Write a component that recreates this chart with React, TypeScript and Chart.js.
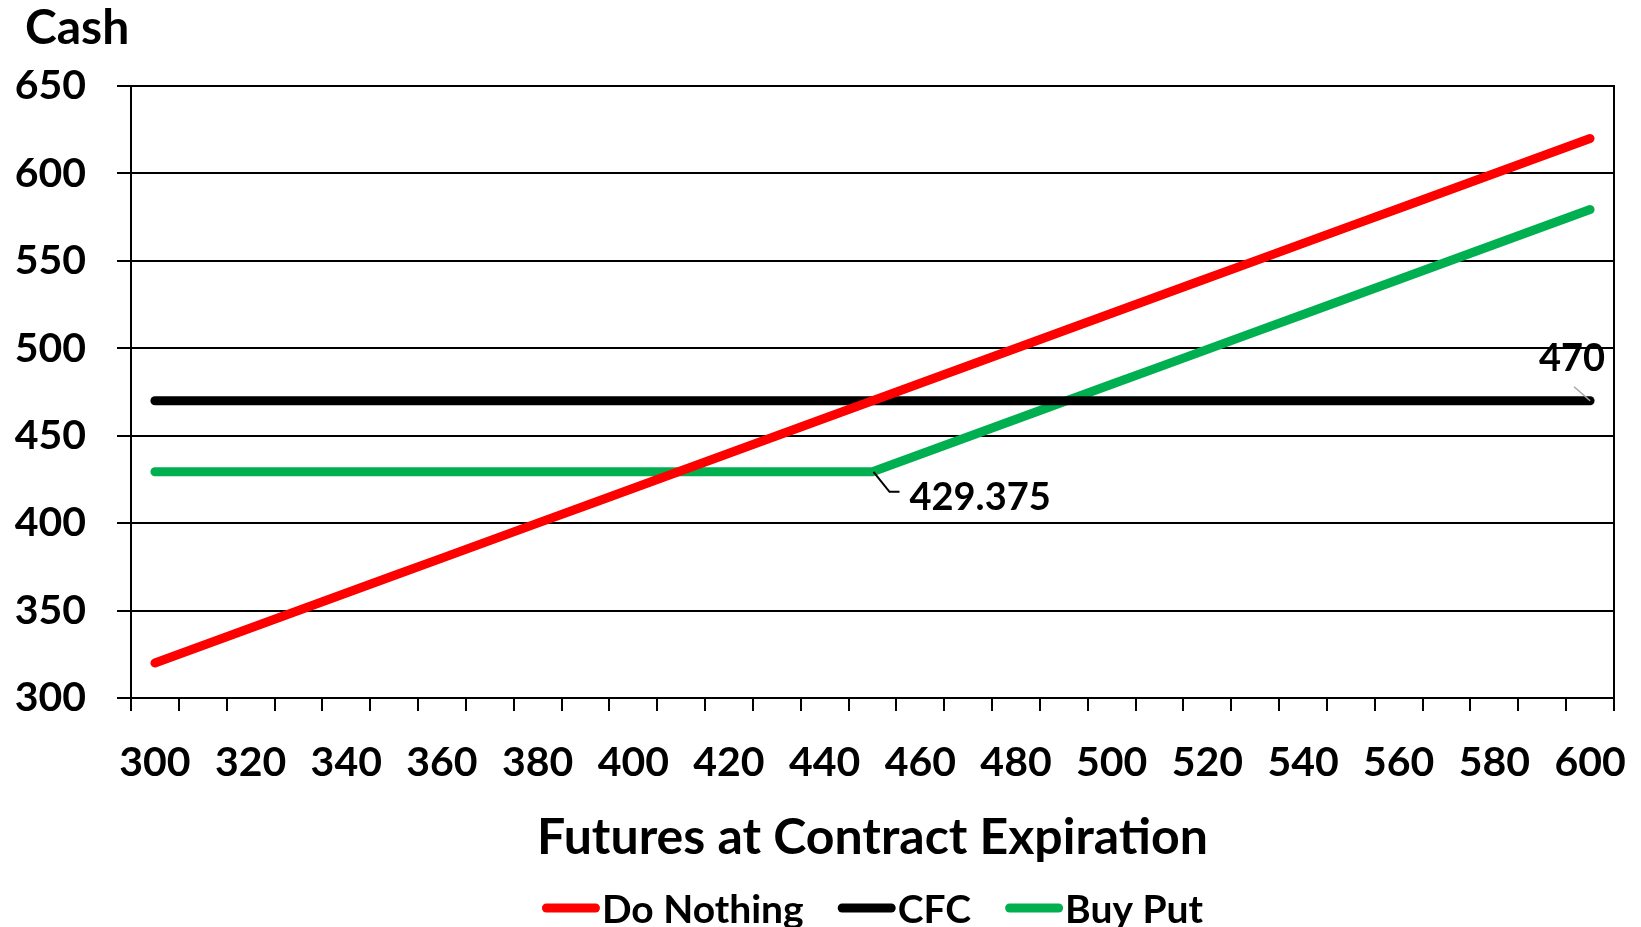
import React, { useEffect, useRef } from "react";
import { Chart, registerables } from "chart.js";

Chart.register(...registerables);

const futuresPrices = [
  300, 310, 320, 330, 340, 350, 360, 370, 380, 390, 400, 410, 420, 430, 440, 450,
  460, 470, 480, 490, 500, 510, 520, 530, 540, 550, 560, 570, 580, 590, 600,
];

const doNothing = [
  320, 330, 340, 350, 360, 370, 380, 390, 400, 410, 420, 430, 440, 450, 460, 470,
  480, 490, 500, 510, 520, 530, 540, 550, 560, 570, 580, 590, 600, 610, 620,
];

const cfc = [
  470, 470, 470, 470, 470, 470, 470, 470, 470, 470, 470, 470, 470, 470, 470, 470,
  470, 470, 470, 470, 470, 470, 470, 470, 470, 470, 470, 470, 470, 470, 470,
];

const buyPut = [
  429.375, 429.375, 429.375, 429.375, 429.375, 429.375, 429.375, 429.375,
  429.375, 429.375, 429.375, 429.375, 429.375, 429.375, 429.375, 429.375,
  439.375, 449.375, 459.375, 469.375, 479.375, 489.375, 499.375, 509.375,
  519.375, 529.375, 539.375, 549.375, 559.375, 569.375, 579.375,
];

const seriesNames = ["Do Nothing", "CFC", "Buy Put"];
const seriesColors = ["#FF0000", "#000000", "#00B050"];

const yTicks = [300, 350, 400, 450, 500, 550, 600, 650];

const yAxisTitle = "Cash";
const xAxisTitle = "Futures at Contract Expiration";

// which points carry a data label: [datasetIndex, pointIndex]
const labelledPoints = [
  [1, 30],
  [2, 15],
];

const FONT = "Lato, 'Open Sans', sans-serif";

export default function App() {
  const canvasRef = useRef<HTMLCanvasElement | null>(null);

  useEffect(() => {
    if (!canvasRef.current) return;

    const rightBorder = {
      id: "rightBorder",
      afterDatasetsDraw(chart: any) {
        const { ctx, chartArea } = chart;
        ctx.save();
        ctx.strokeStyle = "#000";
        ctx.lineWidth = 2;
        ctx.beginPath();
        ctx.moveTo(chartArea.right, chartArea.top - 1);
        ctx.lineTo(chartArea.right, chartArea.bottom + 1);
        ctx.stroke();
        ctx.restore();
      },
    };

    const cashTitle = {
      id: "cashTitle",
      afterDraw(chart: any) {
        const ctx = chart.ctx;
        ctx.save();
        ctx.font = `bold 48px ${FONT}`;
        ctx.fillStyle = "#000";
        ctx.textAlign = "left";
        ctx.textBaseline = "alphabetic";
        ctx.fillText(yAxisTitle, 25, 44);
        ctx.restore();
      },
    };

    const pointLabels = {
      id: "pointLabels",
      afterDatasetsDraw(chart: any) {
        const ctx = chart.ctx;
        ctx.save();
        ctx.font = `bold 38px ${FONT}`;
        ctx.fillStyle = "#000";
        ctx.textBaseline = "middle";
        labelledPoints.forEach(([di, pi]) => {
          const pt = chart.getDatasetMeta(di).data[pi];
          const value = chart.data.datasets[di].data[pi];
          const text = String(value);
          if (di === 1) {
            ctx.strokeStyle = "#A6A6A6";
            ctx.lineWidth = 1.5;
            ctx.beginPath();
            ctx.moveTo(pt.x, pt.y);
            ctx.lineTo(pt.x - 16, pt.y - 14);
            ctx.stroke();
            ctx.textAlign = "center";
            ctx.fillText(text, pt.x - 18, pt.y - 42);
          } else {
            ctx.strokeStyle = "#000";
            ctx.lineWidth = 2;
            ctx.beginPath();
            ctx.moveTo(pt.x + 1, pt.y);
            ctx.lineTo(pt.x + 17, pt.y + 20);
            ctx.lineTo(pt.x + 27, pt.y + 20);
            ctx.stroke();
            ctx.textAlign = "left";
            ctx.fillText(text, pt.x + 37, pt.y + 26);
          }
        });
        ctx.restore();
      },
    };

    const customLegend = {
      id: "customLegend",
      afterDraw(chart: any) {
        const { ctx, chartArea } = chart;
        const dsets = chart.data.datasets;
        ctx.save();
        ctx.font = `bold 39px ${FONT}`;
        ctx.textBaseline = "middle";
        ctx.textAlign = "left";
        const lineLen = 58;
        const gapText = 2;
        const gapItem = 34;
        const widths = dsets.map((d: any) => ctx.measureText(d.label).width);
        let total = 0;
        widths.forEach((w: number, i: number) => {
          total += lineLen + gapText + w + (i > 0 ? gapItem : 0);
        });
        let x = (chartArea.left + chartArea.right) / 2 - total / 2;
        const y = chart.height - 19;
        dsets.forEach((d: any, i: number) => {
          ctx.strokeStyle = d.borderColor;
          ctx.lineWidth = 9;
          ctx.lineCap = "round";
          ctx.beginPath();
          ctx.moveTo(x + 4.5, y);
          ctx.lineTo(x + lineLen - 4.5, y);
          ctx.stroke();
          ctx.fillStyle = "#000";
          ctx.fillText(d.label, x + lineLen + gapText, y + 2);
          x += lineLen + gapText + widths[i] + gapItem;
        });
        ctx.restore();
      },
    };

    const chart = new Chart(canvasRef.current, {
      type: "line",
      data: {
        labels: futuresPrices.map(String),
        datasets: [doNothing, cfc, buyPut].map((vals, i) => ({
          label: seriesNames[i],
          data: vals,
          borderColor: seriesColors[i],
          backgroundColor: seriesColors[i],
          borderWidth: 9,
          borderCapStyle: "round",
          borderJoinStyle: "round",
          pointRadius: 0,
          pointHoverRadius: 0,
          tension: 0,
          fill: false,
        })),
      },
      options: {
        animation: false,
        responsive: true,
        maintainAspectRatio: false,
        layout: { padding: { left: 0, right: 27, top: 86, bottom: 57 } },
        plugins: {
          legend: { display: false },
          tooltip: { enabled: false },
          title: { display: false },
        },
        scales: {
          x: {
            type: "category",
            offset: true,
            afterFit(scale: any) {
              scale.height = 172;
              scale.paddingLeft = 0;
              scale.paddingRight = 0;
            },
            grid: {
              display: true,
              offset: true,
              drawOnChartArea: false,
              drawTicks: true,
              tickLength: 13,
              color: "#000",
              lineWidth: 2,
            },
            border: { display: true, color: "#000", width: 2 },
            ticks: {
              autoSkip: false,
              maxRotation: 0,
              minRotation: 0,
              padding: 27,
              color: "#000",
              font: { family: FONT, size: 41, weight: "bold" },
              callback(this: any, value: any, index: number) {
                return index % 2 === 0 ? this.getLabelForValue(value) : "";
              },
            },
            title: {
              display: true,
              text: xAxisTitle,
              color: "#000",
              font: { family: FONT, size: 50, weight: "bold" },
              padding: { top: 0, bottom: 2 },
            },
          },
          y: {
            min: yTicks[0],
            max: yTicks[yTicks.length - 1],
            afterFit(scale: any) {
              scale.width = 131;
              scale.paddingTop = 0;
              scale.paddingBottom = 0;
            },
            afterBuildTicks(scale: any) {
              scale.ticks = yTicks.map((v) => ({ value: v }));
            },
            grid: {
              color: "#000",
              lineWidth: 2,
              tickLength: 14,
              drawTicks: true,
            },
            border: { display: true, color: "#000", width: 2 },
            ticks: {
              padding: 31,
              color: "#000",
              font: { family: FONT, size: 41, weight: "bold" },
            },
          },
        },
      },
      plugins: [rightBorder, pointLabels, customLegend, cashTitle],
    } as any);

    return () => chart.destroy();
  }, []);

  return (
    <div
      style={{
        position: "fixed",
        left: 0,
        top: 0,
        width: 1641,
        height: 927,
        background: "#fff",
      }}
    >
      <canvas ref={canvasRef} />
    </div>
  );
}
